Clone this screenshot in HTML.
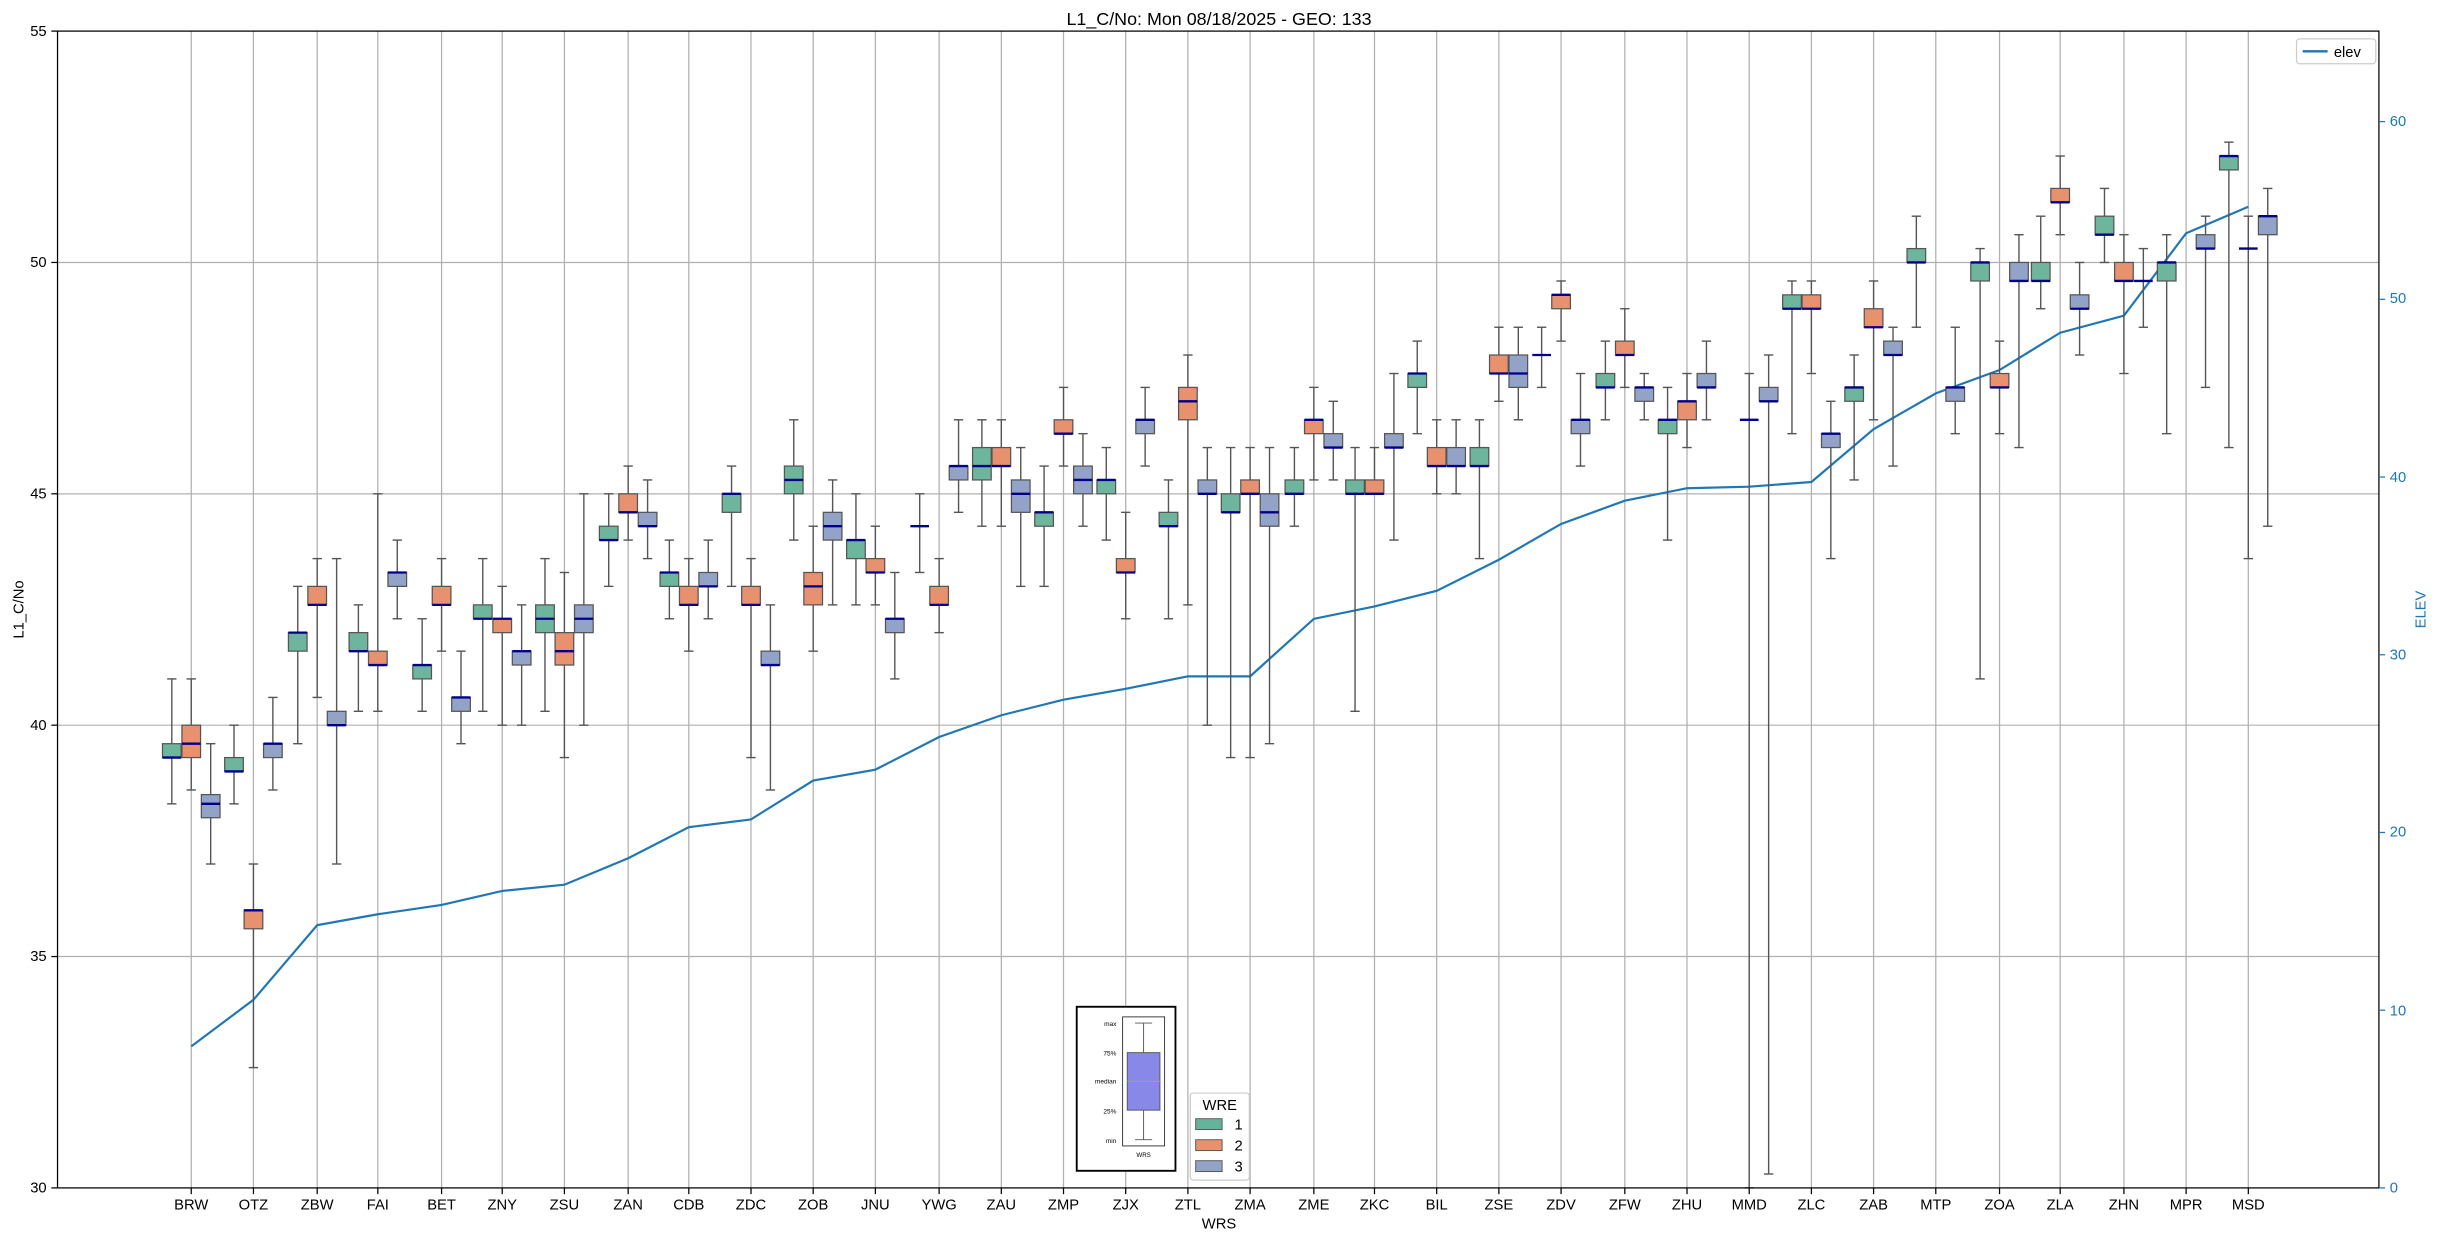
<!DOCTYPE html>
<html><head><meta charset="utf-8"><style>
html,body{margin:0;padding:0;background:#fff}
svg{display:block}
text{font-family:"Liberation Sans","DejaVu Sans",sans-serif}
text:not([fill]){fill:#000}
</style></head><body>
<svg id="c" width="2438" height="1240" viewBox="0 0 1568 797.5" xmlns="http://www.w3.org/2000/svg">
<rect x="0" y="0" width="1568" height="797.5" fill="#fff"/>
<g id="grid" stroke="#b0b0b0" stroke-width="0.8"></g>
<g id="elev"></g>
<g id="boxes"></g>
<rect x="37" y="20" width="1493" height="744" fill="none" stroke="#000" stroke-width="0.8"/>
<g id="ticks" stroke="#000" stroke-width="0.8"></g>
<text x="784" y="16" font-size="11.5" text-anchor="middle">L1_C/No: Mon 08/18/2025 - GEO: 133</text>
<g font-size="9.5" text-anchor="end">
<text x="30" y="767">30</text><text x="30" y="618.2">35</text><text x="30" y="469.4">40</text><text x="30" y="320.6">45</text><text x="30" y="171.8">50</text><text x="30" y="23">55</text>
</g>
<g font-size="9.5">
<text x="1537" y="767" fill="#1f77b4" style="fill:#1f77b4">0</text><text x="1537" y="653" fill="#1f77b4" style="fill:#1f77b4">10</text><text x="1537" y="538" fill="#1f77b4" style="fill:#1f77b4">20</text><text x="1537" y="424" fill="#1f77b4" style="fill:#1f77b4">30</text><text x="1537" y="310" fill="#1f77b4" style="fill:#1f77b4">40</text><text x="1537" y="195" fill="#1f77b4" style="fill:#1f77b4">50</text><text x="1537" y="81" fill="#1f77b4" style="fill:#1f77b4">60</text>
</g>
<text x="15" y="392" font-size="9.5" text-anchor="middle" transform="rotate(-90 15 392)">L1_C/No</text>
<text x="1560" y="392" font-size="9.5" text-anchor="middle" fill="#1f77b4" style="fill:#1f77b4" transform="rotate(-90 1560 392)">ELEV</text>
<text x="784" y="790" font-size="9.5" text-anchor="middle">WRS</text>
<g font-size="9.5" text-anchor="middle">
<text x="123" y="778">BRW</text><text x="163" y="778">OTZ</text><text x="204" y="778">ZBW</text><text x="243" y="778">FAI</text><text x="284" y="778">BET</text><text x="323" y="778">ZNY</text><text x="363" y="778">ZSU</text><text x="404" y="778">ZAN</text><text x="443" y="778">CDB</text><text x="483" y="778">ZDC</text><text x="523" y="778">ZOB</text><text x="563" y="778">JNU</text><text x="604" y="778">YWG</text><text x="644" y="778">ZAU</text><text x="684" y="778">ZMP</text><text x="724" y="778">ZJX</text><text x="764" y="778">ZTL</text><text x="804" y="778">ZMA</text><text x="845" y="778">ZME</text><text x="884" y="778">ZKC</text><text x="924" y="778">BIL</text><text x="964" y="778">ZSE</text><text x="1004" y="778">ZDV</text><text x="1045" y="778">ZFW</text><text x="1085" y="778">ZHU</text><text x="1125" y="778">MMD</text><text x="1165" y="778">ZLC</text><text x="1205" y="778">ZAB</text><text x="1245" y="778">MTP</text><text x="1286" y="778">ZOA</text><text x="1325" y="778">ZLA</text><text x="1366" y="778">ZHN</text><text x="1406" y="778">MPR</text><text x="1446" y="778">MSD</text>
</g>
<rect x="1477" y="25" width="51" height="16" fill="#fff" stroke="#ccc" stroke-width="0.8" rx="2"/>
<line x1="1481" y1="33" x2="1497" y2="33" stroke="#1f77b4" stroke-width="1.5"/>
<text x="1501" y="36.5" font-size="9.5">elev</text>
<rect x="692.5" y="647.5" width="63.5" height="105.5" fill="#fff" stroke="#000" stroke-width="1.2"/>
<rect x="722" y="654" width="27" height="83" fill="#fff" stroke="#333" stroke-width="0.6"/>
<line x1="735.5" y1="658" x2="735.5" y2="733" stroke="#555" stroke-width="0.6"/>
<line x1="730" y1="658" x2="741" y2="658" stroke="#555" stroke-width="0.6"/>
<line x1="730" y1="733" x2="741" y2="733" stroke="#555" stroke-width="0.6"/>
<rect x="725" y="677" width="21" height="37" fill="#8888e8" stroke="#555" stroke-width="0.6"/>
<line x1="725" y1="695.5" x2="746" y2="695.5" stroke="#f08a30" stroke-width="0.6"/>
<g font-size="4.2" text-anchor="end"><text x="718" y="660">max</text><text x="718" y="679">75%</text><text x="718" y="697">median</text><text x="718" y="716">25%</text><text x="718" y="735">min</text></g>
<text x="735.5" y="744" font-size="4" text-anchor="middle">WRS</text>
<rect x="765.5" y="703" width="38" height="56" fill="#fff" stroke="#ccc" stroke-width="0.8" rx="2"/>
<text x="784.5" y="714" font-size="9.5" text-anchor="middle">WRE</text>
<rect x="769" y="719.5" width="17" height="7" fill="#66b39b" stroke="#555" stroke-width="0.6"/><text x="794" y="726.5" font-size="9.5">1</text>
<rect x="769" y="733" width="17" height="7" fill="#e8916f" stroke="#555" stroke-width="0.6"/><text x="794" y="740" font-size="9.5">2</text>
<rect x="769" y="746.5" width="17" height="7" fill="#93a3c7" stroke="#555" stroke-width="0.6"/><text x="794" y="753.5" font-size="9.5">3</text>
</svg>
<script>
(function(){
var NS="http://www.w3.org/2000/svg";
function el(p,t,a){var e=document.createElementNS(NS,t);for(var k in a)e.setAttribute(k,a[k]);p.appendChild(e);return e;}
function Y(v){return 764-(v-30)*29.76;}
var xs=[123,163,204,243,284,323,363,404,443,483,523,563,604,644,684,724,764,804,845,884,924,964,1004,1045,1085,1125,1165,1205,1245,1286,1325,1366,1406,1446];
var g=document.getElementById('grid'),t=document.getElementById('ticks');
xs.forEach(function(x){el(g,'line',{x1:x,y1:20,x2:x,y2:764});el(t,'line',{x1:x,y1:764,x2:x,y2:768});});
[35,40,45,50].forEach(function(v){el(g,'line',{x1:37,y1:Y(v),x2:1530,y2:Y(v)});});
[30,35,40,45,50,55].forEach(function(v){el(t,'line',{x1:33,y1:Y(v),x2:37,y2:Y(v)});});
for(var i=0;i<=60;i+=10){var y=764-i*11.43;el(t,'line',{x1:1530,y1:y,x2:1534,y2:y,stroke:'#1f77b4'});}
var ep=[[123,673],[163,643],[204,595],[243,588],[284,582],[323,573],[363,569],[404,552],[443,532],[483,527],[523,502],[563,495],[604,474],[644,460],[684,450],[724,443],[764,435],[804,435],[845,398],[884,390],[924,380],[964,360],[1004,337],[1045,322],[1085,314],[1125,313],[1165,310],[1205,276],[1245,253],[1286,238],[1325,214],[1366,203],[1406,150],[1446,133]];
el(document.getElementById('elev'),'polyline',{points:ep.map(function(p){return p.join(',')}).join(' '),fill:'none',stroke:'#1f77b4','stroke-width':1.4});
var D=[
[[38.3,39.3,39.3,39.6,41.0],[38.6,39.3,39.6,40.0,41.0],[37.0,38.0,38.3,38.5,39.6]],
[[38.3,39.0,39.0,39.3,40.0],[32.6,35.6,36.0,36.0,37.0],[38.6,39.3,39.6,39.6,40.6]],
[[39.6,41.6,42.0,42.0,43.0],[40.6,42.6,42.6,43.0,43.6],[37.0,40.0,40.0,40.3,43.6]],
[[40.3,41.6,41.6,42.0,42.6],[40.3,41.3,41.3,41.6,45.0],[42.3,43.0,43.3,43.3,44.0]],
[[40.3,41.0,41.3,41.3,42.3],[41.6,42.6,42.6,43.0,43.6],[39.6,40.3,40.6,40.6,41.6]],
[[40.3,42.3,42.3,42.6,43.6],[40.0,42.0,42.3,42.3,43.0],[40.0,41.3,41.6,41.6,42.6]],
[[40.3,42.0,42.3,42.6,43.6],[39.3,41.3,41.6,42.0,43.3],[40.0,42.0,42.3,42.6,45.0]],
[[43.0,44.0,44.0,44.3,45.0],[44.0,44.6,44.6,45.0,45.6],[43.6,44.3,44.3,44.6,45.3]],
[[42.3,43.0,43.3,43.3,44.0],[41.6,42.6,42.6,43.0,43.6],[42.3,43.0,43.0,43.3,44.0]],
[[43.0,44.6,45.0,45.0,45.6],[39.3,42.6,42.6,43.0,43.6],[38.6,41.3,41.3,41.6,42.6]],
[[44.0,45.0,45.3,45.6,46.6],[41.6,42.6,43.0,43.3,44.3],[42.6,44.0,44.3,44.6,45.3]],
[[42.6,43.6,44.0,44.0,45.0],[42.6,43.3,43.3,43.6,44.3],[41.0,42.0,42.3,42.3,43.3]],
[[43.3,44.3,44.3,44.3,45.0],[42.0,42.6,42.6,43.0,43.6],[44.6,45.3,45.6,45.6,46.6]],
[[44.3,45.3,45.6,46.0,46.6],[44.3,45.6,45.6,46.0,46.6],[43.0,44.6,45.0,45.3,46.0]],
[[43.0,44.3,44.6,44.6,45.6],[45.6,46.3,46.3,46.6,47.3],[44.3,45.0,45.3,45.6,46.3]],
[[44.0,45.0,45.3,45.3,46.0],[42.3,43.3,43.3,43.6,44.6],[45.6,46.3,46.6,46.6,47.3]],
[[42.3,44.3,44.3,44.6,45.3],[42.6,46.6,47.0,47.3,48.0],[40.0,45.0,45.0,45.3,46.0]],
[[39.3,44.6,44.6,45.0,46.0],[39.3,45.0,45.0,45.3,46.0],[39.6,44.3,44.6,45.0,46.0]],
[[44.3,45.0,45.0,45.3,46.0],[45.3,46.3,46.6,46.6,47.3],[45.3,46.0,46.0,46.3,47.0]],
[[40.3,45.0,45.0,45.3,46.0],[45.0,45.0,45.0,45.3,46.0],[44.0,46.0,46.0,46.3,47.6]],
[[46.3,47.3,47.6,47.6,48.3],[45.0,45.6,45.6,46.0,46.6],[45.0,45.6,45.6,46.0,46.6]],
[[43.6,45.6,45.6,46.0,46.6],[47.0,47.6,47.6,48.0,48.6],[46.6,47.3,47.6,48.0,48.6]],
[[47.3,48.0,48.0,48.0,48.6],[48.3,49.0,49.3,49.3,49.6],[45.6,46.3,46.6,46.6,47.6]],
[[46.6,47.3,47.3,47.6,48.3],[47.3,48.0,48.0,48.3,49.0],[46.6,47.0,47.3,47.3,47.6]],
[[44.0,46.3,46.6,46.6,47.3],[46.0,46.6,47.0,47.0,47.6],[46.6,47.3,47.3,47.6,48.3]],
[null,[30.0,46.6,46.6,46.6,47.6],[30.3,47.0,47.0,47.3,48.0]],
[[46.3,49.0,49.0,49.3,49.6],[47.6,49.0,49.0,49.3,49.6],[43.6,46.0,46.3,46.3,47.0]],
[[45.3,47.0,47.3,47.3,48.0],[46.6,48.6,48.6,49.0,49.6],[45.6,48.0,48.0,48.3,48.6]],
[[48.6,50.0,50.0,50.3,51.0],null,[46.3,47.0,47.3,47.3,48.6]],
[[41.0,49.6,50.0,50.0,50.3],[46.3,47.3,47.3,47.6,48.3],[46.0,49.6,49.6,50.0,50.6]],
[[49.0,49.6,49.6,50.0,51.0],[50.6,51.3,51.3,51.6,52.3],[48.0,49.0,49.0,49.3,50.0]],
[[50.0,50.6,50.6,51.0,51.6],[47.6,49.6,49.6,50.0,50.6],[48.6,49.6,49.6,49.6,50.3]],
[[46.3,49.6,50.0,50.0,50.6],null,[47.3,50.3,50.3,50.6,51.0]],
[[46.0,52.0,52.3,52.3,52.6],[43.6,50.3,50.3,50.3,51.0],[44.3,50.6,51.0,51.0,51.6]]
];
var cols=['#6db59d','#e8916f','#93a3c7'],off=[-12.5,0,12.5],b=document.getElementById('boxes');
D.forEach(function(row,i){row.forEach(function(d,s){if(!d)return;var x=xs[i]+off[s],w=12,h=w/2;
el(b,'line',{x1:x,y1:Y(d[0]),x2:x,y2:Y(d[4]),stroke:'#555','stroke-width':0.9});
el(b,'line',{x1:x-3,y1:Y(d[0]),x2:x+3,y2:Y(d[0]),stroke:'#555','stroke-width':0.9});
el(b,'line',{x1:x-3,y1:Y(d[4]),x2:x+3,y2:Y(d[4]),stroke:'#555','stroke-width':0.9});
if(d[3]>d[1])el(b,'rect',{x:x-h,y:Y(d[3]),width:w,height:Y(d[1])-Y(d[3]),fill:cols[s],stroke:'#555','stroke-width':0.8});
el(b,'line',{x1:x-h,y1:Y(d[2]),x2:x+h,y2:Y(d[2]),stroke:'#00008b','stroke-width':1.5});
});});
})();
</script>
</body></html>
